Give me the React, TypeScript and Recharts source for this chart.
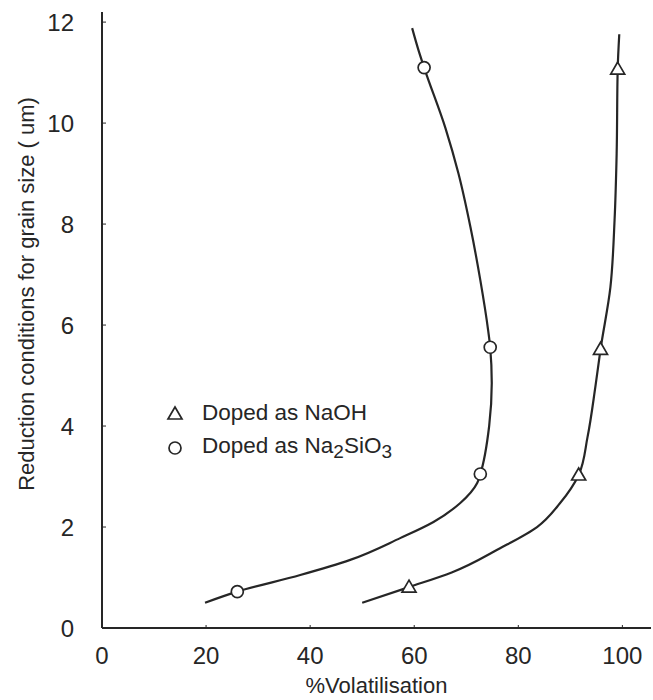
import { ComposedChart, Line, Scatter, XAxis, YAxis } from "recharts";

const FONT = "'Liberation Sans', Arial, sans-serif";
const INK = "#262626";

const xTicks = [0, 20, 40, 60, 80, 100];
const yTicks = [0, 2, 4, 6, 8, 10, 12];

// measured points
const naohPoints = [
  { x: 59, y: 0.81 },
  { x: 91.6, y: 3.03 },
  { x: 95.8, y: 5.52 },
  { x: 99.1, y: 11.07 },
];
const silicatePoints = [
  { x: 26, y: 0.72 },
  { x: 72.7, y: 3.05 },
  { x: 74.6, y: 5.56 },
  { x: 61.9, y: 11.1 },
];

// hand-drawn curves
const naohCurve = [
  { x: 50, y: 0.5 },
  { x: 59, y: 0.81 },
  { x: 67.2, y: 1.1 },
  { x: 76.5, y: 1.58 },
  { x: 83.6, y: 2.0 },
  { x: 88, y: 2.47 },
  { x: 91.6, y: 3.03 },
  { x: 93.3, y: 3.78 },
  { x: 94.8, y: 4.77 },
  { x: 95.8, y: 5.52 },
  { x: 97.7, y: 6.75 },
  { x: 98.5, y: 8.08 },
  { x: 98.9, y: 9.4 },
  { x: 99.1, y: 11.07 },
  { x: 99.4, y: 11.76 },
];
const silicateCurve = [
  { x: 19.8, y: 0.5 },
  { x: 26, y: 0.72 },
  { x: 38.1, y: 1.05 },
  { x: 47.7, y: 1.35 },
  { x: 57.3, y: 1.78 },
  { x: 63.7, y: 2.1 },
  { x: 68.8, y: 2.47 },
  { x: 72.1, y: 2.87 },
  { x: 72.7, y: 3.05 },
  { x: 74.4, y: 4.0 },
  { x: 74.9, y: 4.85 },
  { x: 74.6, y: 5.56 },
  { x: 74.2, y: 5.9 },
  { x: 72.7, y: 6.89 },
  { x: 70.8, y: 7.94 },
  { x: 68.5, y: 9.0 },
  { x: 66, y: 9.9 },
  { x: 61.9, y: 11.1 },
  { x: 60.8, y: 11.45 },
  { x: 59.6, y: 11.88 },
];

function TriangleMark({ cx, cy }: { cx?: number; cy?: number }) {
  if (cx == null || cy == null) return null;
  return (
    <path
      d={`M${cx},${cy - 7} L${cx + 7},${cy + 5} L${cx - 7},${cy + 5} Z`}
      fill="#fff"
      stroke={INK}
      strokeWidth={1.7}
    />
  );
}

function CircleMark({ cx, cy }: { cx?: number; cy?: number }) {
  if (cx == null || cy == null) return null;
  return <circle cx={cx} cy={cy} r={6} fill="#fff" stroke={INK} strokeWidth={1.7} />;
}

function LegendBox() {
  const sub = { fontSize: 19, verticalAlign: -5 } as const;
  return (
    <div
      style={{
        position: "absolute",
        left: 165,
        top: 395,
        fontFamily: FONT,
        fontSize: 22.5,
        color: INK,
        pointerEvents: "none",
      }}
    >
      <div style={{ display: "flex", alignItems: "center", height: 35 }}>
        <svg width={20} height={20}>
          <TriangleMark cx={10} cy={11} />
        </svg>
        <span style={{ marginLeft: 17 }}>Doped as NaOH</span>
      </div>
      <div style={{ display: "flex", alignItems: "center", height: 35 }}>
        <svg width={20} height={20}>
          <CircleMark cx={10} cy={10} />
        </svg>
        <span style={{ marginLeft: 17 }}>
          Doped as Na<sub style={sub}>2</sub>SiO<sub style={sub}>3</sub>
        </span>
      </div>
    </div>
  );
}

function YTitle() {
  return (
    <text
      x={26}
      y={294}
      transform="rotate(-90 26 294)"
      textAnchor="middle"
      dominantBaseline="central"
      fill={INK}
      fontSize={22}
      fontFamily={FONT}
    >
      Reduction conditions for grain size ( um)
    </text>
  );
}

export default function App() {
  return (
    <div style={{ position: "absolute", left: 0, top: 0, width: 653, height: 700, background: "#fff" }}>
      <ComposedChart width={653} height={700} margin={{ top: 12, right: 2, left: 0, bottom: 0 }}>
        <XAxis
          type="number"
          dataKey="x"
          domain={[0, 105.5]}
          ticks={xTicks}
          allowDataOverflow
          height={72}
          axisLine={{ stroke: INK, strokeWidth: 2 }}
          tickLine={{ stroke: INK }}
          tickSize={-3}
          tickMargin={22}
          tick={{ fill: INK, fontSize: 24, fontFamily: FONT }}
          label={{
            value: "%Volatilisation",
            position: "insideBottom",
            offset: 7,
            fill: INK,
            fontSize: 22,
            fontFamily: FONT,
          }}
        />
        <YAxis
          type="number"
          dataKey="y"
          domain={[0, 12.2]}
          ticks={yTicks}
          allowDataOverflow
          width={102}
          axisLine={{ stroke: INK, strokeWidth: 2 }}
          tickLine={{ stroke: INK }}
          tickSize={-4}
          tickMargin={32}
          tick={{ fill: INK, fontSize: 24, fontFamily: FONT }}
          label={{ content: () => <YTitle /> }}
        />
        <Line
          data={naohCurve}
          dataKey="y"
          type="monotoneY"
          stroke={INK}
          strokeWidth={2.2}
          dot={false}
          legendType="none"
          isAnimationActive={false}
        />
        <Line
          data={silicateCurve}
          dataKey="y"
          type="monotoneY"
          stroke={INK}
          strokeWidth={2.2}
          dot={false}
          legendType="none"
          isAnimationActive={false}
        />
        <Scatter
          name="Doped as NaOH"
          data={naohPoints}
          dataKey="y"
          shape={(p: any) => <TriangleMark cx={p.cx} cy={p.cy} />}
          isAnimationActive={false}
        />
        <Scatter
          name="Doped as Na2SiO3"
          data={silicatePoints}
          dataKey="y"
          shape={(p: any) => <CircleMark cx={p.cx} cy={p.cy} />}
          isAnimationActive={false}
        />
      </ComposedChart>
      <LegendBox />
    </div>
  );
}
